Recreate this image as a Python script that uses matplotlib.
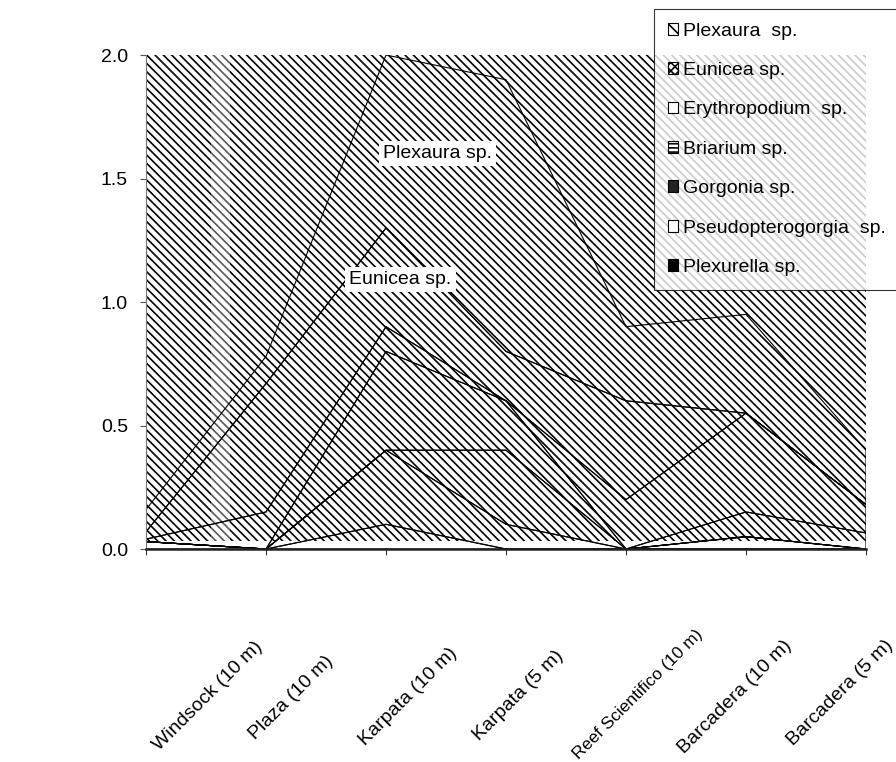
import numpy as np
import matplotlib
matplotlib.use("Agg")
from matplotlib import pyplot as plt
from matplotlib.patches import Patch

plt.rcParams['font.family'] = ['Liberation Sans', 'DejaVu Sans']
plt.rcParams['hatch.linewidth'] = 1.2

sites = ["Windsock (10 m)", "Plaza (10 m)", "Karpata (10 m)", "Karpata (5 m)",
         "Reef Scientifico (10 m)", "Barcadera (10 m)", "Barcadera (5 m)"]

# stacked from bottom to top
plexurella = [0.03, 0.00, 0.10, 0.00, 0.00, 0.00, 0.00]
pseudopterogorgia = [0.00, 0.00, 0.30, 0.10, 0.00, 0.05, 0.00]
gorgonia = [0.00, 0.00, 0.00, 0.30, 0.00, 0.00, 0.00]
briarium = [0.00, 0.00, 0.40, 0.20, 0.00, 0.10, 0.065]
erythropodium = [0.01, 0.15, 0.10, 0.00, 0.20, 0.40, 0.115]
eunicea = [0.03, 0.52, 0.40, 0.20, 0.40, 0.00, 0.00]
plexaura = [0.09, 0.11, 0.70, 1.10, 0.30, 0.40, 0.22]

legend_names = ["Plexaura  sp.", "Eunicea sp.", "Erythropodium  sp.", "Briarium sp.",
                "Gorgonia sp.", "Pseudopterogorgia  sp.", "Plexurella sp."]
yticks = [0.0, 0.5, 1.0, 1.5, 2.0]

# where the rotated category labels end (x in category units, y in axes fraction)
label_end_x = [0.95, 1.54, 2.57, 3.46, 4.62, 5.36, 6.20]
label_end_y = [-0.192, -0.221, -0.206, -0.21, -0.168, -0.19, -0.19]
label_size = [14, 14, 14, 14, 12.5, 14, 14]

x = np.arange(len(sites))
fig = plt.figure(figsize=(8.96, 7.62), dpi=100)
ax = fig.add_axes([0.163, 0.2795, 0.8035, 0.6483])

# patterned plot area (stops a little above the axis, like the original)
ax.axhspan(0.032, 2.0, facecolor='white', edgecolor='black', hatch='\\\\\\\\',
           linewidth=0, zorder=0.5)
# grey moire band
ax.axvspan(0.54, 0.70, ymin=0.016, ymax=1.0, color='white', alpha=0.35, lw=0, zorder=0.6)

ax.stackplot(x, plexurella, pseudopterogorgia, gorgonia, briarium, erythropodium,
             eunicea, plexaura, colors=['none'] * 7, edgecolor='black',
             linewidth=0.8, zorder=2)

ax.text(2.43, 1.6, "Plexaura sp.", fontsize=14, ha='center', va='center', zorder=3,
        bbox=dict(facecolor='white', edgecolor='none', pad=3))
ax.text(2.12, 1.09, "Eunicea sp.", fontsize=14, ha='center', va='center', zorder=3,
        bbox=dict(facecolor='white', edgecolor='none', pad=3))

ax.set_xlim(0, 6)
ax.set_ylim(0, 2.0)
ax.set_yticks(yticks)
ax.set_yticklabels([f"{v:.1f}" for v in yticks], fontsize=14)
ax.set_xticks(x)
ax.set_xticklabels([])
ax.tick_params(axis='y', length=4, pad=9, color='#555555')
ax.tick_params(axis='x', length=4, color='#333333')
for s in ['top', 'right']:
    ax.spines[s].set_visible(False)
ax.spines['left'].set_color('#777777')
ax.spines['bottom'].set_color('#222222')
ax.spines['bottom'].set_linewidth(1.8)
ax.set_facecolor('white')

for name, lx, ly, fs in zip(sites, label_end_x, label_end_y, label_size):
    ax.text(lx, ly, name, fontsize=fs, rotation=45, ha='right', va='center',
            rotation_mode='anchor', transform=ax.get_xaxis_transform())

handles = [
    Patch(facecolor='white', edgecolor='black', hatch='\\\\\\', lw=0.8),
    Patch(facecolor='white', edgecolor='black', hatch='xxxx', lw=0.8),
    Patch(facecolor='white', edgecolor='black', lw=0.8),
    Patch(facecolor='white', edgecolor='black', hatch='----', lw=0.8),
    Patch(facecolor='#222222', edgecolor='black', lw=0.8),
    Patch(facecolor='white', edgecolor='black', lw=0.8),
    Patch(facecolor='black', edgecolor='black', lw=0.8),
]
leg = fig.legend(handles, legend_names, loc='upper left', bbox_to_anchor=(0.73, 0.988),
                 bbox_transform=fig.transFigure, fontsize=14, frameon=True,
                 fancybox=False, shadow=False, borderaxespad=0, handlelength=0.55,
                 handleheight=0.55, handletextpad=0.25, labelspacing=1.15,
                 borderpad=0.7)
leg.get_frame().set_edgecolor('black')
leg.get_frame().set_linewidth(0.8)

fig.savefig("out.png", dpi=100)
